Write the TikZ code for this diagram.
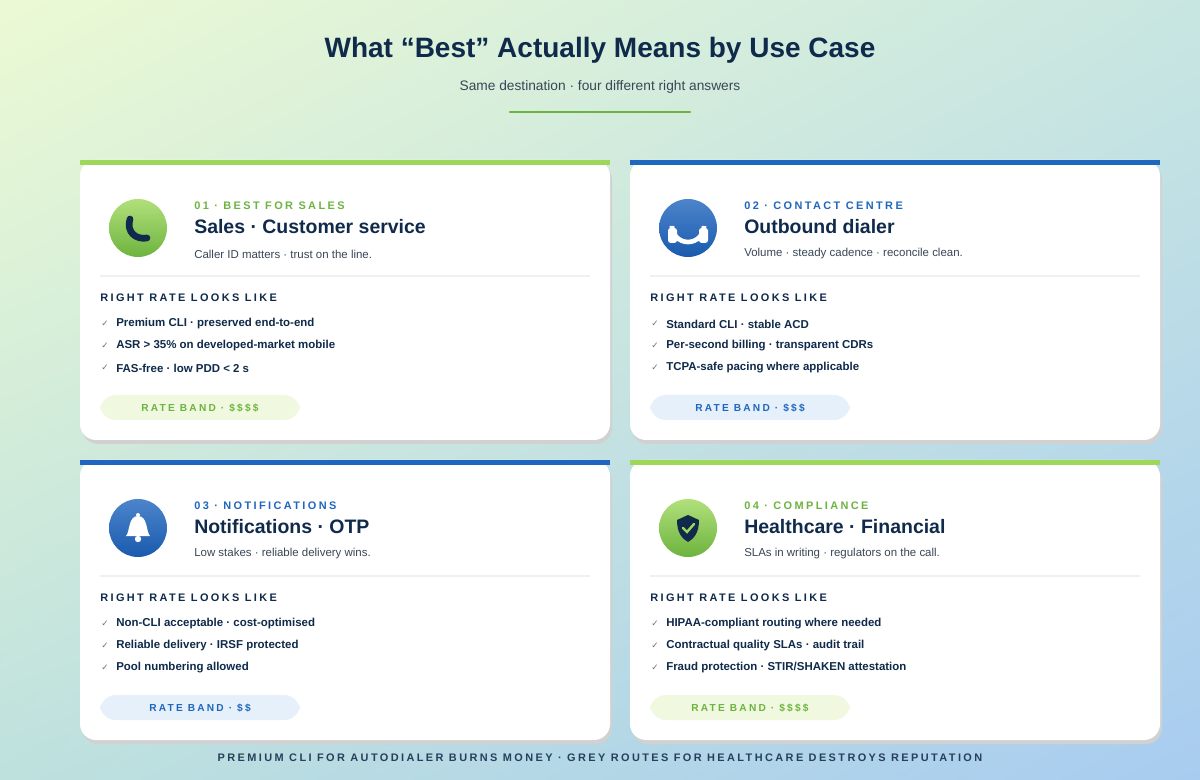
\documentclass[tikz,border=0pt]{standalone}
\usepackage{fontspec}
\setmainfont{Liberation Sans}
\newfontfamily\spaced[LetterSpace=22]{Liberation Sans}
\newfontfamily\symb{DejaVu Sans}
\usetikzlibrary{positioning,shadings}
\definecolor{navy}{HTML}{0F2A4A}
\definecolor{grn}{HTML}{6DB33F}
\definecolor{grnlt}{HTML}{9ED85A}
\definecolor{blu}{HTML}{1F66BE}
\definecolor{bluDk}{HTML}{1A5AAE}
\definecolor{txt}{HTML}{3A4656}
\definecolor{pillg}{HTML}{F0F9E0}
\definecolor{pillb}{HTML}{E6F0FA}
\definecolor{bgUL}{RGB}{236,250,212}
\definecolor{bgUR}{RGB}{200,230,225}
\definecolor{bgLL}{RGB}{190,225,222}
\definecolor{bgLR}{RGB}{168,204,240}

% one card: #1 name, #2 x, #3 y, #4 accent, #5 pill fill, #6 tag, #7 title, #8 sub, #9 items/pill
\newcommand{\ratecard}[9]{%
  \fill[black!18,rounded corners=12] (#2+2,#3+4) rectangle (#2+532,#3+284);
  \fill[white,rounded corners=12] (#2,#3) rectangle (#2+530,#3+280);
  \fill[#4] (#2,#3) rectangle (#2+530,#3+5);
  \coordinate (#1-ico) at (#2+58,#3+68);
  \node[tag,text=#4] (#1-tag) at (#2+114,#3+46) {#6};
  \node[ctitle] (#1-title) at (#2+114,#3+67) {#7};
  \node[csub] (#1-sub) at (#2+114,#3+94) {#8};
  \draw[black!6,line width=1] (#2+20,#3+116) -- (#2+510,#3+116);
  \node[rhead] (#1-head) at (#2+20,#3+138) {RIGHT RATE LOOKS LIKE};
  #9
}
\newcommand{\pill}[6]{% name, x, y, fill, text colour, text
  \fill[#4,rounded corners=12] (#2+20,#3+235) rectangle (#2+220,#3+260);
  \node[tag,anchor=center,text=#5,font=\spaced\bfseries\fontsize{7.6}{9}\selectfont] (#1-band) at (#2+120,#3+248) {#6};
}

\begin{document}
\begin{tikzpicture}[x=0.75pt,y=-0.75pt,
  tag/.style={anchor=west,inner sep=0,font=\spaced\bfseries\fontsize{8.2}{10}\selectfont},
  ctitle/.style={anchor=west,inner sep=0,text=navy,font=\bfseries\fontsize{14.6}{17}\selectfont},
  csub/.style={anchor=west,inner sep=0,text=txt,font=\fontsize{8.6}{10}\selectfont},
  rhead/.style={anchor=west,inner sep=0,text=navy,font=\spaced\bfseries\fontsize{8.2}{10}\selectfont},
  item/.style={anchor=west,inner sep=0,text=navy,font=\bfseries\fontsize{8.6}{10}\selectfont},
  tick/.style={anchor=west,inner sep=0,text=black!55,font=\symb\fontsize{6.5}{8}\selectfont}]
\useasboundingbox (0,0) rectangle (1200,780);
\shade[upper left=bgUL,upper right=bgUR,lower left=bgLL,lower right=bgLR] (0,0) rectangle (1200,780);

% heading
\node[text=navy,font=\bfseries\fontsize{21}{25}\selectfont] (title) at (600,50) {What “Best” Actually Means by Use Case};
\node[text=txt,font=\fontsize{10.3}{12}\selectfont] (subtitle) at (600,87) {Same destination · four different right answers};
\draw[grn,line width=2.2,line cap=round] (510,112) -- (690,112);

% cards
\ratecard{sales}{80}{160}{grnlt}{pillg}{\textcolor{grn}{01 · BEST FOR SALES}}{Sales · Customer service}{Caller ID matters · trust on the line.}{%
  \foreach \itm [count=\i] in {Premium CLI · preserved end-to-end,ASR > 35\% on developed-market mobile,FAS-free · low PDD < 2 s}
    {\node[tick] at (101,302+22*\i) {✓}; \node[item] at (116,302+22*\i) {\itm};}
  \pill{sales}{80}{160}{pillg}{grn}{RATE BAND · \$\$\$\$}}
\ratecard{dialer}{630}{160}{blu}{pillb}{02 · CONTACT CENTRE}{Outbound dialer}{Volume · steady cadence · reconcile clean.}{%
  \foreach \itm [count=\i] in {Standard CLI · stable ACD,Per-second billing · transparent CDRs,TCPA-safe pacing where applicable}
    {\node[tick] at (651,302+22*\i) {✓}; \node[item] at (666,302+22*\i) {\itm};}
  \pill{dialer}{630}{160}{pillb}{blu}{RATE BAND · \$\$\$}}
\ratecard{otp}{80}{460}{blu}{pillb}{03 · NOTIFICATIONS}{Notifications · OTP}{Low stakes · reliable delivery wins.}{%
  \foreach \itm [count=\i] in {Non-CLI acceptable · cost-optimised,Reliable delivery · IRSF protected,Pool numbering allowed}
    {\node[tick] at (101,602+22*\i) {✓}; \node[item] at (116,602+22*\i) {\itm};}
  \pill{otp}{80}{460}{pillb}{blu}{RATE BAND · \$\$}}
\ratecard{health}{630}{460}{grnlt}{pillg}{\textcolor{grn}{04 · COMPLIANCE}}{Healthcare · Financial}{SLAs in writing · regulators on the call.}{%
  \foreach \itm [count=\i] in {HIPAA-compliant routing where needed,Contractual quality SLAs · audit trail,Fraud protection · STIR/SHAKEN attestation}
    {\node[tick] at (651,602+22*\i) {✓}; \node[item] at (666,602+22*\i) {\itm};}
  \pill{health}{630}{460}{pillg}{grn}{RATE BAND · \$\$\$\$}}

% icons
\shade[top color=grnlt!80!white,bottom color=grn] (sales-ico) circle (29);
\shade[top color=blu!80!white,bottom color=bluDk] (dialer-ico) circle (29);
\shade[top color=blu!80!white,bottom color=bluDk] (otp-ico) circle (29);
\shade[top color=grnlt!80!white,bottom color=grn] (health-ico) circle (29);
% phone
\draw[navy,line width=5,line cap=round] ([shift={(-8,-9)}]sales-ico) .. controls ([shift={(-12,4)}]sales-ico) and ([shift={(-2,12)}]sales-ico) .. ([shift={(9,10)}]sales-ico);
% headset
\draw[white,line width=3.5] ([shift={(-16,6)}]dialer-ico) -- ([shift={(-16,-2)}]dialer-ico) arc[start angle=180,end angle=0,radius=16];
\fill[white,rounded corners=2] ([shift={(-20,0)}]dialer-ico) rectangle ([shift={(-11,15)}]dialer-ico);
\fill[white,rounded corners=2] ([shift={(11,0)}]dialer-ico) rectangle ([shift={(20,15)}]dialer-ico);
% bell
\fill[white] ([shift={(-12,8)}]otp-ico) .. controls ([shift={(-8,4)}]otp-ico) and ([shift={(-10,-12)}]otp-ico) .. ([shift={(0,-12)}]otp-ico)
  .. controls ([shift={(10,-12)}]otp-ico) and ([shift={(8,4)}]otp-ico) .. ([shift={(12,8)}]otp-ico) -- cycle;
\fill[white] ([shift={(0,11)}]otp-ico) circle (3.2);
\fill[white] ([shift={(0,-13)}]otp-ico) circle (2);
% shield
\fill[navy] ([shift={(0,-13)}]health-ico) -- ([shift={(11,-8)}]health-ico) .. controls ([shift={(11,6)}]health-ico) and ([shift={(5,11)}]health-ico) .. ([shift={(0,14)}]health-ico)
  .. controls ([shift={(-5,11)}]health-ico) and ([shift={(-11,6)}]health-ico) .. ([shift={(-11,-8)}]health-ico) -- cycle;
\draw[grnlt,line width=1.8,line cap=round] ([shift={(-5,0)}]health-ico) -- ([shift={(-1,4)}]health-ico) -- ([shift={(6,-4)}]health-ico);

% footer
\node[text=navy!90,font=\spaced\bfseries\fontsize{8.2}{10}\selectfont] (footer) at (600,758) {PREMIUM CLI FOR AUTODIALER BURNS MONEY · GREY ROUTES FOR HEALTHCARE DESTROYS REPUTATION};
\end{tikzpicture}
\end{document}
